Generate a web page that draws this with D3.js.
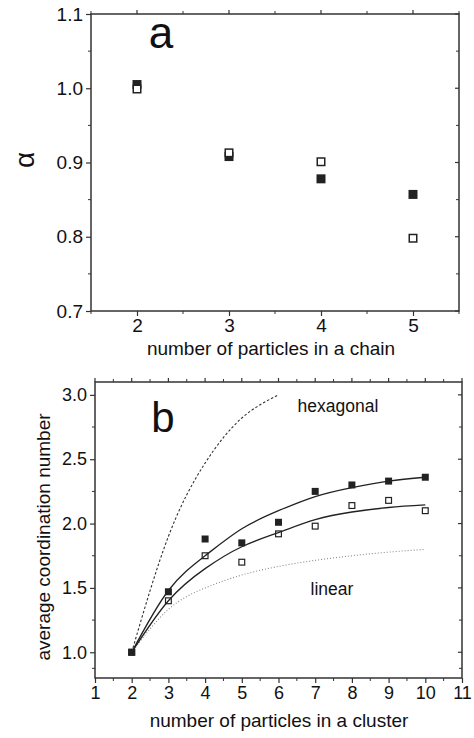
<!DOCTYPE html>
<html>
<head>
<meta charset="utf-8">
<script src="https://cdn.jsdelivr.net/npm/d3@7"></script>
<style>
  body { margin: 0; background: #fff; }
  svg { display: block; font-family: "Liberation Sans", Arial, sans-serif; }
</style>
</head>
<body>
<div id="chart"></div>
<script>
// panel a: alpha vs number of particles in a chain
const chainN = [2, 3, 4, 5];
const alphaFilled = [1.005, 0.908, 0.878, 0.857];
const alphaOpen = [0.999, 0.913, 0.901, 0.798];

// panel b: average coordination number vs cluster size
const clusterN = [2, 3, 4, 5, 6, 7, 8, 9, 10];
const coordFilled = [1.0, 1.47, 1.88, 1.85, 2.01, 2.25, 2.30, 2.33, 2.36];
const coordOpen = [1.0, 1.40, 1.75, 1.70, 1.92, 1.98, 2.14, 2.18, 2.10];
const fitFilled = [1.0, 1.48, 1.75, 1.96, 2.10, 2.21, 2.28, 2.33, 2.36];
const fitOpen = [1.0, 1.40, 1.65, 1.82, 1.93, 2.03, 2.09, 2.125, 2.145];
const hexN = [2, 3, 4, 5, 6];
const hexValues = [1.0, 1.90, 2.47, 2.82, 3.0];
const linearValues = [1.0, 1.333, 1.5, 1.6, 1.667, 1.714, 1.75, 1.778, 1.8];

const ticksA = [0.7, 0.8, 0.9, 1.0, 1.1];
const ticksB = [1.0, 1.5, 2.0, 2.5, 3.0];

function init() {
    const w = 474;
    const h = 738;
    const ink = "#222";
    const axisColor = "#333";

    const svg = d3.select("#chart")
        .append("svg")
        .attr("width", w)
        .attr("height", h);

    function frame(g, x, y, xMajor, xMinor, yMajor, yMinor, fmtY, fontSize) {
        const [x0, x1] = x.range();
        const [y0, y1] = y.range();

        // minor ticks
        xMinor.forEach(function (v) {
            g.append("line").attr("x1", x(v)).attr("x2", x(v)).attr("y1", y0).attr("y2", y0 + 3)
                .attr("stroke", axisColor).attr("stroke-width", 1);
            g.append("line").attr("x1", x(v)).attr("x2", x(v)).attr("y1", y1).attr("y2", y1 - 3)
                .attr("stroke", axisColor).attr("stroke-width", 1);
        });
        yMinor.forEach(function (v) {
            g.append("line").attr("x1", x0).attr("x2", x0 - 3).attr("y1", y(v)).attr("y2", y(v))
                .attr("stroke", axisColor).attr("stroke-width", 1);
            g.append("line").attr("x1", x1).attr("x2", x1 - 3).attr("y1", y(v)).attr("y2", y(v))
                .attr("stroke", axisColor).attr("stroke-width", 1);
        });

        // major ticks + labels
        const xAxis = d3.axisBottom(x).tickValues(xMajor).tickSize(5).tickPadding(3)
            .tickFormat(d3.format("d"));
        g.append("g").attr("transform", "translate(0," + y0 + ")").call(xAxis)
            .call(function (s) {
                s.select(".domain").remove();
                s.selectAll("line").attr("stroke", axisColor).attr("stroke-width", 1.2);
                s.selectAll("text").attr("font-size", fontSize).attr("fill", "#111")
                    .attr("font-family", "Liberation Sans, Arial, sans-serif");
            });
        const yAxis = d3.axisLeft(y).tickValues(yMajor).tickSize(5).tickPadding(3)
            .tickFormat(fmtY);
        g.append("g").attr("transform", "translate(" + x0 + ",0)").call(yAxis)
            .call(function (s) {
                s.select(".domain").remove();
                s.selectAll("line").attr("stroke", axisColor).attr("stroke-width", 1.2);
                s.selectAll("text").attr("font-size", fontSize).attr("fill", "#111")
                    .attr("font-family", "Liberation Sans, Arial, sans-serif");
            });
        xMajor.forEach(function (v) {
            g.append("line").attr("x1", x(v)).attr("x2", x(v)).attr("y1", y1).attr("y2", y1 - 4)
                .attr("stroke", axisColor).attr("stroke-width", 1.2);
        });
        yMajor.forEach(function (v) {
            g.append("line").attr("x1", x1).attr("x2", x1 - 4).attr("y1", y(v)).attr("y2", y(v))
                .attr("stroke", axisColor).attr("stroke-width", 1.2);
        });

        g.append("rect")
            .attr("x", x0).attr("y", y1)
            .attr("width", x1 - x0).attr("height", y0 - y1)
            .attr("fill", "none")
            .attr("stroke", axisColor)
            .attr("stroke-width", 1.5);
    }

    // ---------- panel a ----------
    const ga = svg.append("g");
    const xa = d3.scaleLinear().domain([1.5, 5.5]).range([91, 459]);
    const ya = d3.scaleLinear().domain([0.7, 1.1]).range([311, 14]);

    frame(ga, xa, ya, chainN, [1.5, 2.5, 3.5, 4.5, 5.5],
        ticksA, d3.range(0.75, 1.1, 0.1), d3.format(".1f"), 19);

    const sa = 9;
    ga.selectAll(".fa")
        .data(chainN)
        .enter()
        .append("rect")
        .attr("x", function (d) { return xa(d) - sa / 2; })
        .attr("y", function (d, i) { return ya(alphaFilled[i]) - sa / 2; })
        .attr("width", sa).attr("height", sa)
        .attr("fill", ink);
    ga.selectAll(".oa")
        .data(chainN)
        .enter()
        .append("rect")
        .attr("x", function (d) { return xa(d) - (sa - 1.5) / 2; })
        .attr("y", function (d, i) { return ya(alphaOpen[i]) - (sa - 1.5) / 2; })
        .attr("width", sa - 1.5).attr("height", sa - 1.5)
        .attr("fill", "#fff")
        .attr("stroke", ink)
        .attr("stroke-width", 1.5);

    ga.append("text")
        .attr("x", 161).attr("y", 48)
        .attr("text-anchor", "middle")
        .attr("font-size", 44)
        .attr("fill", "#111")
        .text("a");
    ga.append("text")
        .attr("transform", "translate(34,160) rotate(-90)")
        .attr("text-anchor", "middle")
        .attr("font-size", 28)
        .attr("fill", "#111")
        .text("α");
    ga.append("text")
        .attr("x", 271).attr("y", 355)
        .attr("text-anchor", "middle")
        .attr("font-size", 19)
        .attr("fill", "#111")
        .text("number of particles in a chain");

    // ---------- panel b ----------
    const gb = svg.append("g");
    const xb = d3.scaleLinear().domain([1, 11]).range([95, 462]);
    const yb = d3.scaleLinear().domain([0.8, 3.1]).range([678, 382]);

    frame(gb, xb, yb, d3.range(1, 12), d3.range(1.5, 11, 1),
        ticksB, [0.75 + 0.125, 1.25, 1.75, 2.25, 2.75].filter(function (v) { return v > 0.8; }),
        d3.format(".1f"), 18);

    const curve = d3.line().curve(d3.curveNatural);

    gb.append("path")
        .attr("d", curve(hexN.map(function (n, i) { return [xb(n), yb(hexValues[i])]; })))
        .attr("fill", "none")
        .attr("stroke", "#333")
        .attr("stroke-width", 1.1)
        .attr("stroke-dasharray", "2.5,2");
    gb.append("path")
        .attr("d", curve(clusterN.map(function (n, i) { return [xb(n), yb(linearValues[i])]; })))
        .attr("fill", "none")
        .attr("stroke", "#888")
        .attr("stroke-width", 1.1)
        .attr("stroke-dasharray", "1,2");
    [fitFilled, fitOpen].forEach(function (vals) {
        gb.append("path")
            .attr("d", curve(clusterN.map(function (n, i) { return [xb(n), yb(vals[i])]; })))
            .attr("fill", "none")
            .attr("stroke", "#222")
            .attr("stroke-width", 1.3);
    });

    const sb = 7;
    gb.selectAll(".ob")
        .data(clusterN)
        .enter()
        .append("rect")
        .attr("x", function (d) { return xb(d) - (sb - 1.2) / 2; })
        .attr("y", function (d, i) { return yb(coordOpen[i]) - (sb - 1.2) / 2; })
        .attr("width", sb - 1.2).attr("height", sb - 1.2)
        .attr("fill", "none")
        .attr("stroke", ink)
        .attr("stroke-width", 1.2);
    gb.selectAll(".fb")
        .data(clusterN)
        .enter()
        .append("rect")
        .attr("x", function (d) { return xb(d) - sb / 2; })
        .attr("y", function (d, i) { return yb(coordFilled[i]) - sb / 2; })
        .attr("width", sb).attr("height", sb)
        .attr("fill", ink);

    gb.append("text")
        .attr("x", 163).attr("y", 432)
        .attr("text-anchor", "middle")
        .attr("font-size", 42)
        .attr("fill", "#111")
        .text("b");
    gb.append("text")
        .attr("x", 338).attr("y", 412)
        .attr("text-anchor", "middle")
        .attr("font-size", 17.5)
        .attr("fill", "#111")
        .text("hexagonal");
    gb.append("text")
        .attr("x", 332).attr("y", 595)
        .attr("text-anchor", "middle")
        .attr("font-size", 17.5)
        .attr("fill", "#111")
        .text("linear");
    gb.append("text")
        .attr("transform", "translate(50,537) rotate(-90)")
        .attr("text-anchor", "middle")
        .attr("font-size", 19)
        .attr("fill", "#111")
        .text("average coordination number");
    gb.append("text")
        .attr("x", 279).attr("y", 727)
        .attr("text-anchor", "middle")
        .attr("font-size", 19)
        .attr("fill", "#111")
        .text("number of particles in a cluster");
}

window.onload = init;
</script>
</body>
</html>
